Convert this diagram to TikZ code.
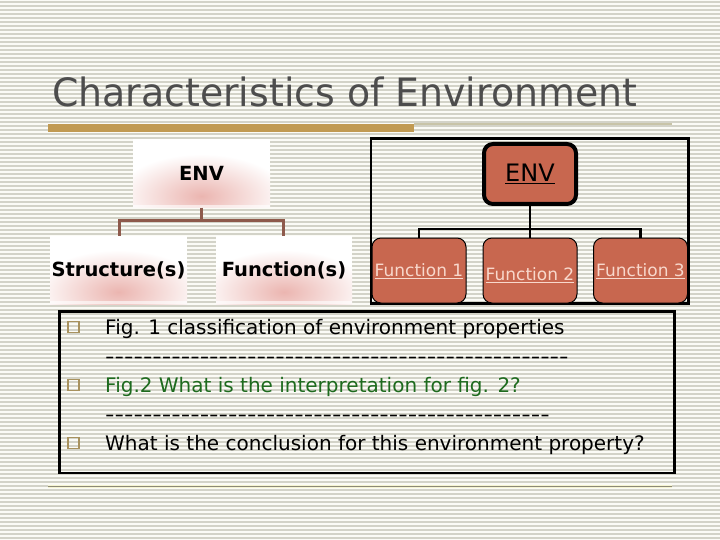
\documentclass[tikz,border=0pt]{standalone}
\usepackage{fontspec}
\setmainfont{DejaVu Sans}
\newfontfamily\titlefont{DejaVu Sans}[FakeStretch=0.97]
\newfontfamily\dashfont{DejaVu Sans}[FakeStretch=1.31]
\usetikzlibrary{calc}
\definecolor{bgcol}{HTML}{FBFBF6}
\definecolor{stripecol}{HTML}{D3D3C8}
\definecolor{titlecol}{HTML}{4D4D4D}
\definecolor{goldbar}{HTML}{C19A52}
\definecolor{thinrule}{HTML}{C8C4A8}
\definecolor{treebrown}{HTML}{8E5A4C}
\definecolor{pinkglow}{HTML}{EBB5B0}
\definecolor{terra}{HTML}{C8674F}
\definecolor{lightpink}{HTML}{F8D8CC}
\definecolor{bullettan}{HTML}{A8925E}
\definecolor{greentext}{HTML}{1E6B1E}
\tikzset{
  softbox/.style={minimum width=137pt, minimum height=68pt, inner sep=0pt},
  softtext/.style={font=\fontsize{19.5}{22}\selectfont\bfseries},
  brownline/.style={draw=treebrown, line width=3pt},
  envbox/.style={draw=black, line width=4pt, fill=terra, rounded corners=9pt, minimum width=92pt, minimum height=60pt, inner sep=0pt},
  funcbox/.style={draw=black, line width=1pt, fill=terra, rounded corners=9pt, minimum width=94pt, minimum height=65pt, inner sep=0pt},
  functext/.style={font=\fontsize{17}{19}\selectfont, text=lightpink},
  blackline/.style={draw=black, line width=2.5pt},
  bullet/.style={draw=bullettan, line width=1.6pt, minimum size=11pt, inner sep=0pt},
  bullettext/.style={font=\fontsize{20}{22}\selectfont, anchor=base west, inner sep=0pt},
  dashtext/.style={font=\dashfont\fontsize{20}{22}\selectfont, anchor=base west, inner sep=0pt},
}
\newcommand{\softfill}[4]{%
  \begin{scope}
    \clip (#1,#2) rectangle (#3,#4);
    \fill[white] (#1,#2) rectangle (#3,#4);
    \shade[inner color=pinkglow, outer color=white] ($(#1,#4)!0.5!(#3,#4)+(0,-12)$) ellipse (85pt and 42pt);
    \fill[white, opacity=0.6] (#1,#4-3) rectangle (#3,#4);
  \end{scope}}
\begin{document}
\begin{tikzpicture}[x=1pt,y=-1pt]
\useasboundingbox (0,0) rectangle (720,540);
\fill[bgcol] (0,0) rectangle (720,540);
\foreach \yy in {1,5,...,540} \fill[stripecol] (0,\yy) rectangle (720,\yy+1.6);
% title
\node[anchor=base west, inner sep=0pt, text=titlecol, font=\titlefont\fontsize{39}{44}\selectfont] (title) at (52,107) {Characteristics of Environment};
\fill[goldbar] (48,124) rectangle (414,132);
\fill[thinrule] (414,123.5) rectangle (672,125);
\fill[thinrule!60!yellow!30] (48,485) rectangle (672,488);
\fill[thinrule!70!black] (48,485.5) rectangle (672,486.8);
% left tree
\softfill{133}{139}{270}{208}
\softfill{50}{236}{187}{304}
\softfill{216}{236}{352}{304}
\node[softbox, softtext] (lenv) at (201.5,173.5) {ENV};
\node[softbox, softtext] (lstr) at (118.5,270) {Structure(s)};
\node[softbox, softtext] (lfun) at (284,270) {Function(s)};
\coordinate (ljoin) at (201.5,221);
\draw[brownline] (lenv.south) -- (ljoin);
\draw[brownline] (lstr.north -| 119,0) |- (ljoin) -| (lfun.north -| 283,0);
% right tree frame
\draw[blackline] (371,138.5) rectangle (688.5,303.5);
\node[envbox] (renv) at (530,174) {\fontsize{24}{27}\selectfont\underline{ENV}};
\node[funcbox] (f1) at (419,270.5) {};
\node[funcbox] (f2) at (530,270.5) {};
\node[funcbox] (f3) at (640.5,270.5) {};
\node[functext] (t1) at (419,271) {\underline{Function 1}};
\node[functext] (t2) at (530,275) {\underline{Function 2}};
\node[functext] (t3) at (640.5,271) {\underline{Function 3}};
\coordinate (rjoin) at (530,229);
\draw[blackline] (renv.south) -- (rjoin);
\draw[blackline] (f1.north) |- (rjoin) -| (f3.north);
\draw[blackline] (rjoin) -- (f2.north);
% bullet box
\draw[blackline] (59.5,311.5) rectangle (674.5,473);
\node[bullet] (b1) at (73.5,327) {};
\node[bullet] (b2) at (73.5,385) {};
\node[bullet] (b3) at (73.5,443) {};
\node[bullettext] (l1) at (105,334) {Fig. 1 classification of environment properties};
\node[dashtext] (l2) at (105,363) {-------------------------------------------------};
\node[bullettext, text=greentext] (l3) at (105,392) {Fig.2 What is the interpretation for fig. 2?};
\node[dashtext] (l4) at (105,421) {-----------------------------------------------};
\node[bullettext] (l5) at (105,450) {What is the conclusion for this environment property?};
\end{tikzpicture}
\end{document}
